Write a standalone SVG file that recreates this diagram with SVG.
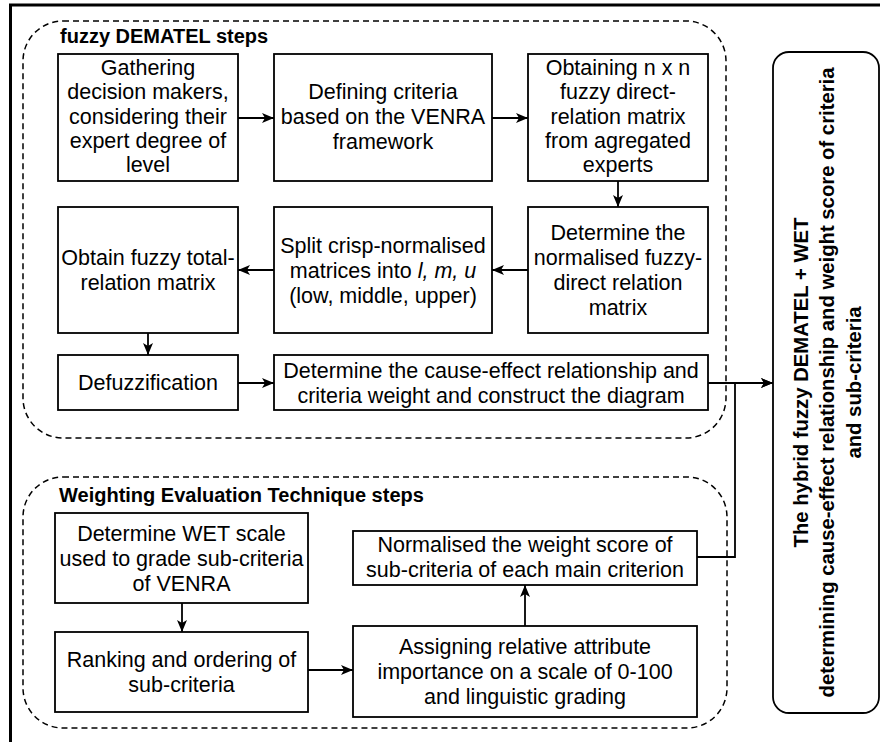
<svg xmlns="http://www.w3.org/2000/svg" width="880" height="742" viewBox="0 0 880 742">
<style>
.bg{fill:#fff}
.frame{stroke:#000;stroke-width:3;fill:none}
.grp{fill:none;stroke:#000;stroke-width:1.5;stroke-dasharray:6 4}
.box{fill:#fff;stroke:#000;stroke-width:1.8}
.t{font-family:"Liberation Sans",Arial,sans-serif;font-size:21.5px;fill:#000;text-anchor:middle}
.h{font-family:"Liberation Sans",Arial,sans-serif;font-size:20px;font-weight:bold;fill:#000}
.r{font-family:"Liberation Sans",Arial,sans-serif;font-size:20.3px;font-weight:bold;fill:#000;text-anchor:middle}
.e{fill:none;stroke:#000;stroke-width:1.8}
</style>
<defs>
<marker id="arr" viewBox="0 0 12 10" refX="12" refY="5" markerWidth="12" markerHeight="10" markerUnits="userSpaceOnUse" orient="auto">
<path d="M0,0 L12,5 L0,10 L3,5 Z" fill="#000"/>
</marker>
</defs>
<rect class="bg" x="0" y="0" width="880" height="742"/>
<path class="frame" d="M10.5,742 V5 H880"/>

<g id="group-dematel">
<rect class="grp" x="23" y="21" width="703" height="417" rx="40" ry="40"/>
<text class="h" x="60" y="43">fuzzy DEMATEL steps</text>
</g>
<g id="group-wet">
<rect class="grp" x="23" y="477" width="704" height="251" rx="40" ry="40"/>
<text class="h" x="59" y="502">Weighting Evaluation Technique steps</text>
</g>

<g id="edges">
<path class="e" d="M238,118 L274,118" marker-end="url(#arr)"/>
<path class="e" d="M492,118 L528,118" marker-end="url(#arr)"/>
<path class="e" d="M618,181 L618,207" marker-end="url(#arr)"/>
<path class="e" d="M528,270 L492,270" marker-end="url(#arr)"/>
<path class="e" d="M274,270 L238,270" marker-end="url(#arr)"/>
<path class="e" d="M148,333 L148,355" marker-end="url(#arr)"/>
<path class="e" d="M238,383 L274,383" marker-end="url(#arr)"/>
<path class="e" d="M708,383 L773,383" marker-end="url(#arr)"/>
<path class="e" d="M697,557 L735,557 L735,383 L773,383" marker-end="url(#arr)"/>
<path class="e" d="M182,603 L182,632" marker-end="url(#arr)"/>
<path class="e" d="M308,670 L353,670" marker-end="url(#arr)"/>
<path class="e" d="M525,626 L525,585" marker-end="url(#arr)"/>
</g>

<g id="n-gathering">
<rect class="box" x="58" y="54" width="180" height="127"/>
<text class="t"><tspan x="148" y="75">Gathering</tspan><tspan x="148" y="99.3">decision makers,</tspan><tspan x="148" y="123.5">considering their</tspan><tspan x="148" y="147.8">expert degree of</tspan><tspan x="148" y="172">level</tspan></text>
</g>
<g id="n-defining">
<rect class="box" x="274" y="54" width="218" height="127"/>
<text class="t"><tspan x="383" y="99">Defining criteria</tspan><tspan x="383" y="124">based on the VENRA</tspan><tspan x="383" y="148.5">framework</tspan></text>
</g>
<g id="n-obtaining">
<rect class="box" x="528" y="54" width="180" height="127"/>
<text class="t"><tspan x="618" y="75">Obtaining n x n</tspan><tspan x="618" y="99.3">fuzzy direct-</tspan><tspan x="618" y="123.5">relation matrix</tspan><tspan x="618" y="147.8">from agregated</tspan><tspan x="618" y="172">experts</tspan></text>
</g>
<g id="n-normalised-fuzzy">
<rect class="box" x="528" y="207" width="180" height="126"/>
<text class="t"><tspan x="618" y="240">Determine the</tspan><tspan x="618" y="265">normalised fuzzy-</tspan><tspan x="618" y="290">direct relation</tspan><tspan x="618" y="315">matrix</tspan></text>
</g>
<g id="n-split">
<rect class="box" x="274" y="207" width="218" height="126"/>
<text class="t"><tspan x="383" y="252.5">Split crisp-normalised</tspan><tspan x="383" y="277.5">matrices into <tspan font-style="italic">l, m, u</tspan></tspan><tspan x="383" y="302.5">(low, middle, upper)</tspan></text>
</g>
<g id="n-total">
<rect class="box" x="58" y="207" width="180" height="126"/>
<text class="t"><tspan x="148" y="265">Obtain fuzzy total-</tspan><tspan x="148" y="290">relation matrix</tspan></text>
</g>
<g id="n-defuzz">
<rect class="box" x="58" y="355" width="180" height="55"/>
<text class="t" x="148" y="390">Defuzzification</text>
</g>
<g id="n-cause">
<rect class="box" x="274" y="355" width="434" height="55"/>
<text class="t"><tspan x="491" y="377.5">Determine the cause-effect relationship and</tspan><tspan x="491" y="402.5">criteria weight and construct the diagram</tspan></text>
</g>

<g id="n-wetscale">
<rect class="box" x="55" y="513" width="253" height="90"/>
<text class="t"><tspan x="181.5" y="540.5">Determine WET scale</tspan><tspan x="181.5" y="565.5">used to grade sub-criteria</tspan><tspan x="181.5" y="590.5">of VENRA</tspan></text>
</g>
<g id="n-ranking">
<rect class="box" x="55" y="632" width="253" height="80"/>
<text class="t"><tspan x="181.5" y="667">Ranking and ordering of</tspan><tspan x="181.5" y="692">sub-criteria</tspan></text>
</g>
<g id="n-normalised-weight">
<rect class="box" x="353" y="531" width="344" height="54"/>
<text class="t"><tspan x="525" y="552">Normalised the weight score of</tspan><tspan x="525" y="577">sub-criteria of each main criterion</tspan></text>
</g>
<g id="n-assigning">
<rect class="box" x="353" y="626" width="344" height="91"/>
<text class="t"><tspan x="525" y="653.5">Assigning relative attribute</tspan><tspan x="525" y="678.5">importance on a scale of 0-100</tspan><tspan x="525" y="703.5">and linguistic grading</tspan></text>
</g>

<g id="n-outcome">
<rect class="box" x="773" y="52" width="106" height="661" rx="16" ry="16"/>
<text class="r" transform="translate(826,382.5) rotate(-90)"><tspan x="0" y="-18">The hybrid fuzzy DEMATEL + WET</tspan><tspan x="0" y="8">determining cause-effect relationship and weight score of criteria</tspan><tspan x="0" y="35">and sub-criteria</tspan></text>
</g>
</svg>
